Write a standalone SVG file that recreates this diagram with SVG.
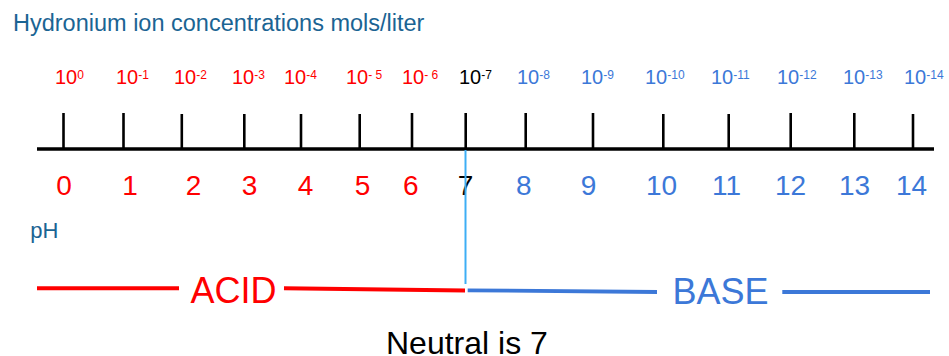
<svg xmlns="http://www.w3.org/2000/svg" width="949" height="356" viewBox="0 0 949 356">
<style>
text{font-family:"Liberation Sans",Arial,sans-serif}
.title{font-size:23.5px;fill:#1B6493}
.conc{font-size:20px}
.sup{font-size:12px}
.ph{font-size:28px;text-anchor:middle}
.red{fill:#FF0000}
.blue{fill:#3C78D8}
.blk{fill:#000000}
.tick{stroke:#000;stroke-width:2.6}
.big{font-size:36px}
</style>
<rect width="949" height="356" fill="#fff"/>
<g id="title"><text class="title" x="13" y="31">Hydronium ion concentrations mols/liter</text></g>
<g id="concentrations">
<text class="conc red" x="55" y="84">10<tspan class="sup" dy="-5">0</tspan></text>
<text class="conc red" x="116" y="84">10<tspan class="sup" dy="-5">-1</tspan></text>
<text class="conc red" x="174" y="84">10<tspan class="sup" dy="-5">-2</tspan></text>
<text class="conc red" x="232" y="84">10<tspan class="sup" dy="-5">-3</tspan></text>
<text class="conc red" x="284" y="84">10<tspan class="sup" dy="-5">-4</tspan></text>
<text class="conc red" x="346" y="84" xml:space="preserve">10<tspan class="sup" dy="-5">- 5</tspan></text>
<text class="conc red" x="402" y="84" xml:space="preserve">10<tspan class="sup" dy="-5">- 6</tspan></text>
<text class="conc blk" x="459" y="84">10<tspan class="sup" dy="-5">-7</tspan></text>
<text class="conc blue" x="517" y="84">10<tspan class="sup" dy="-5">-8</tspan></text>
<text class="conc blue" x="581" y="84">10<tspan class="sup" dy="-5">-9</tspan></text>
<text class="conc blue" x="645" y="84">10<tspan class="sup" dy="-5">-10</tspan></text>
<text class="conc blue" x="711" y="84">10<tspan class="sup" dy="-5">-11</tspan></text>
<text class="conc blue" x="777" y="84">10<tspan class="sup" dy="-5">-12</tspan></text>
<text class="conc blue" x="843" y="84">10<tspan class="sup" dy="-5">-13</tspan></text>
<text class="conc blue" x="904" y="84">10<tspan class="sup" dy="-5">-14</tspan></text>
</g>
<g id="scale">
<line x1="37" y1="149" x2="934" y2="149" stroke="#000" stroke-width="3.5"/>
<line class="tick" x1="63.5" y1="113" x2="63.5" y2="149"/>
<line class="tick" x1="123.5" y1="113" x2="123.5" y2="149"/>
<line class="tick" x1="181.8" y1="114" x2="181.8" y2="149"/>
<line class="tick" x1="244.3" y1="114" x2="244.3" y2="149"/>
<line class="tick" x1="301" y1="114" x2="301" y2="149"/>
<line class="tick" x1="359.7" y1="114" x2="359.7" y2="149"/>
<line class="tick" x1="412" y1="113" x2="412" y2="149"/>
<line class="tick" x1="465.7" y1="113" x2="465.7" y2="149"/>
<line class="tick" x1="525.7" y1="113" x2="525.7" y2="149"/>
<line class="tick" x1="593" y1="113" x2="593" y2="149"/>
<line class="tick" x1="663.3" y1="114" x2="663.3" y2="149"/>
<line class="tick" x1="728.7" y1="114" x2="728.7" y2="149"/>
<line class="tick" x1="790.7" y1="113" x2="790.7" y2="149"/>
<line class="tick" x1="854.3" y1="113" x2="854.3" y2="149"/>
<line class="tick" x1="913" y1="114" x2="913" y2="149"/>
</g>
<g id="ph-values">
<text class="ph red" x="64" y="195">0</text>
<text class="ph red" x="130" y="195">1</text>
<text class="ph red" x="193.5" y="195">2</text>
<text class="ph red" x="249.5" y="195">3</text>
<text class="ph red" x="305.5" y="195">4</text>
<text class="ph red" x="362.5" y="195">5</text>
<text class="ph red" x="410.7" y="195">6</text>
<text class="ph blk" x="465.6" y="195">7</text>
<text class="ph blue" x="523.8" y="195">8</text>
<text class="ph blue" x="588.5" y="195">9</text>
<text class="ph blue" x="661.5" y="195">10</text>
<text class="ph blue" x="726.5" y="195">11</text>
<text class="ph blue" x="790.5" y="195">12</text>
<text class="ph blue" x="854.5" y="195">13</text>
<text class="ph blue" x="911.5" y="195">14</text>
</g>
<g id="ph-label"><text x="30.3" y="238" font-size="22" fill="#1B6493">pH</text></g>
<g id="connectors">
<line x1="465.5" y1="150" x2="465.5" y2="284" stroke="#3DAEF5" stroke-width="2"/>
<line x1="37" y1="288.3" x2="179" y2="288.3" stroke="#FF0000" stroke-width="4"/>
<line x1="284" y1="288.3" x2="465" y2="290.5" stroke="#FF0000" stroke-width="4"/>
<line x1="467.7" y1="290.3" x2="657" y2="292" stroke="#3C78D8" stroke-width="3.8"/>
<line x1="782.3" y1="292" x2="930" y2="292" stroke="#3C78D8" stroke-width="3.8"/>
</g>
<g id="acid"><text class="big red" x="190.5" y="303">ACID</text></g>
<g id="base"><text class="big blue" x="672.5" y="304">BASE</text></g>
<g id="neutral"><text x="386" y="353.5" font-size="32" fill="#000">Neutral is 7</text></g>
</svg>
